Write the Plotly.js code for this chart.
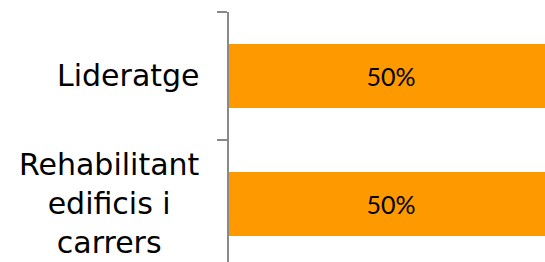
<!DOCTYPE html>
<html>
<head>
<meta charset="utf-8">
<script src="https://cdn.plot.ly/plotly-3.0.1.min.js"></script>
<style>
html, body { margin: 0; padding: 0; overflow: hidden; background: #fff; }
#chart { width: 553px; height: 268px; }
</style>
</head>
<body>
<div id="chart"></div>
<script>
const categories = ['Lideratge', 'Rehabilitant edificis i carrers'];
const tickLabels = ['Lideratge', 'Rehabilitant<br>edificis i<br>carrers'];
const values = [50, 50];
const valueLabels = ['50%', '50%'];

const trace = {
  type: 'bar',
  orientation: 'h',
  y: categories,
  x: values,
  text: valueLabels,
  texttemplate: '%{text}',
  textposition: 'inside',
  insidetextanchor: 'middle',
  textfont: { family: 'Lato', size: 25, color: '#000' },
  marker: { color: '#FF9900' },
  hoverinfo: 'none'
};

const annotations = categories.map((c, i) => ({
  xref: 'paper', yref: 'y',
  x: 0, y: c,
  xanchor: 'right', yanchor: 'middle',
  xshift: -27,
  yshift: 1,
  align: 'center',
  text: tickLabels[i],
  showarrow: false,
  font: { family: 'DejaVu Sans ExtraLight, DejaVu Sans', size: 30, color: '#000' }
}));

const layout = {
  width: 553,
  height: 268,
  margin: { l: 229, r: 0, t: 12, b: 0, pad: 0 },
  paper_bgcolor: '#fff',
  plot_bgcolor: '#fff',
  bargap: 0.5,
  showlegend: false,
  xaxis: { range: [0, 50], visible: false, fixedrange: true },
  yaxis: {
    type: 'category',
    autorange: 'reversed',
    showline: true,
    linecolor: '#898989',
    linewidth: 2,
    ticks: 'outside',
    tickson: 'boundaries',
    ticklen: 10,
    tickwidth: 2,
    tickcolor: '#898989',
    showticklabels: false,
    showgrid: false,
    zeroline: false,
    fixedrange: true
  },
  annotations: annotations
};

Plotly.newPlot('chart', [trace], layout, { displayModeBar: false, staticPlot: true });
</script>
</body>
</html>
